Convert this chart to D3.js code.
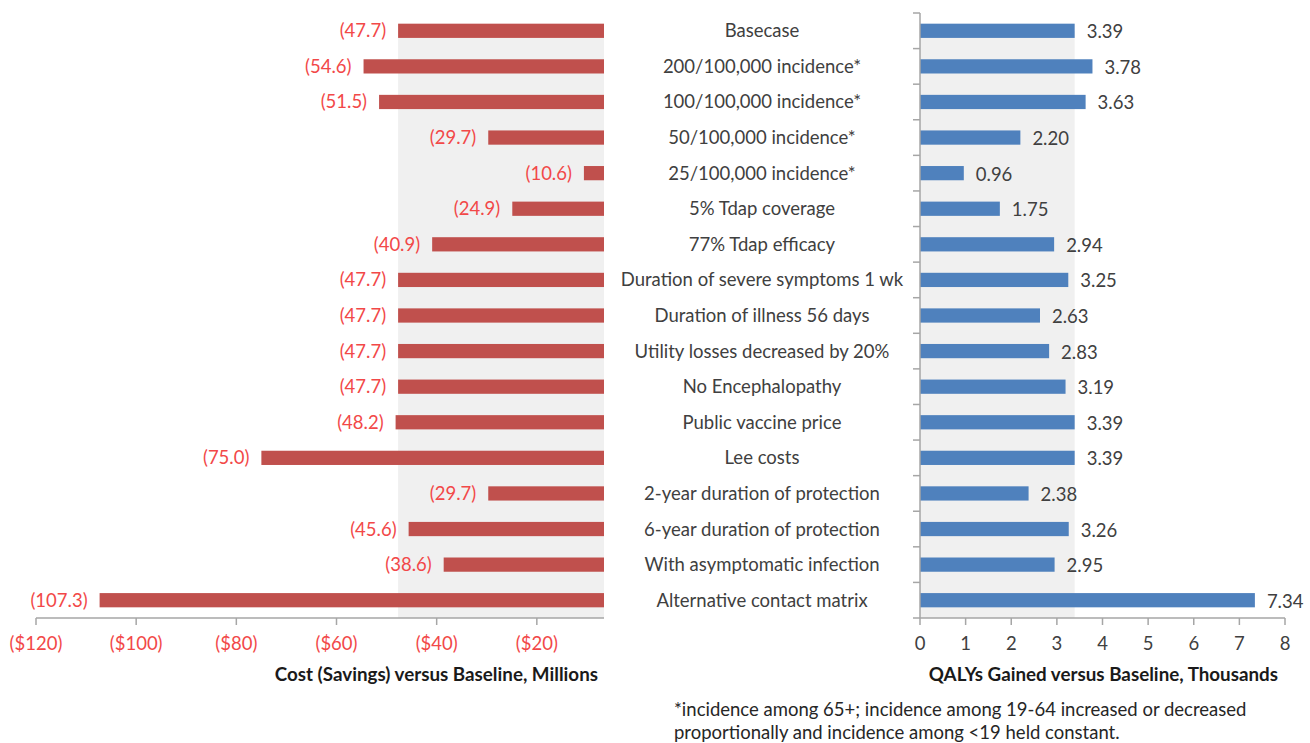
<!DOCTYPE html>
<html>
<head>
<meta charset="utf-8">
<script src="https://cdn.jsdelivr.net/npm/d3@7"></script>
<style>
  body { margin: 0; background: #fff; }
  svg text { font-family: Lato, "Open Sans", sans-serif; }
</style>
</head>
<body>
<div id="chart"></div>
<script>
const categories = [
  "Basecase", "200/100,000 incidence*", "100/100,000 incidence*", "50/100,000 incidence*",
  "25/100,000 incidence*", "5% Tdap coverage", "77% Tdap efficacy",
  "Duration of severe symptoms 1 wk", "Duration of illness 56 days",
  "Utility losses decreased by 20%", "No Encephalopathy", "Public vaccine price",
  "Lee costs", "2-year duration of protection", "6-year duration of protection",
  "With asymptomatic infection", "Alternative contact matrix"
];
const costValues = [-47.7, -54.6, -51.5, -29.7, -10.6, -24.9, -40.9, -47.7, -47.7, -47.7, -47.7, -48.2, -75.0, -29.7, -45.6, -38.6, -107.3];
const qalyValues = [3.39, 3.78, 3.63, 2.20, 0.96, 1.75, 2.94, 3.25, 2.63, 2.83, 3.19, 3.39, 3.39, 2.38, 3.26, 2.95, 7.34];
const costTicks = [-120, -100, -80, -60, -40, -20];
const qalyTicks = [0, 1, 2, 3, 4, 5, 6, 7, 8];
const costTitle = "Cost (Savings) versus Baseline, Millions";
const qalyTitle = "QALYs Gained versus Baseline, Thousands";
const footnote = [
  "*incidence among 65+; incidence among 19-64 increased or decreased",
  "proportionally and incidence among <19 held constant."
];

const width = 1310, height = 743;
const props = {
  red: "#c0504d", blue: "#4f81bd", band: "#f0f0f0",
  axis: "#a6a6a6", redText: "#f24848", text: "#404040",
  fontSize: 18.5, titleSize: 18.8
};

const svg = d3.select("#chart").append("svg").attr("width", width).attr("height", height);

const y = d3.scaleBand().domain(categories).range([13, 618]).paddingInner(0.6).paddingOuter(0.3);
const xL = d3.scaleLinear().domain([-120, 0]).range([36, 637]);
const xR = d3.scaleLinear().domain([0, 8]).range([920, 1285]);
const leftEnd = 604;
const axisY = 618;
const fmtCost = (v) => `(${Math.abs(v).toFixed(1)})`;
const mid = (d) => y(d) + y.bandwidth() / 2;

// left panel
const base = costValues[0];
svg.append("rect")
  .attr("x", xL(base)).attr("y", mid(categories[0]))
  .attr("width", leftEnd - xL(base)).attr("height", axisY - mid(categories[0]))
  .attr("fill", props.band);

svg.append("g").selectAll("rect")
  .data(categories)
  .join("rect")
  .attr("x", (d, i) => xL(costValues[i]))
  .attr("y", (d) => y(d))
  .attr("width", (d, i) => Math.min(xL(0), leftEnd) - xL(costValues[i]))
  .attr("height", y.bandwidth())
  .attr("fill", props.red);

svg.append("g").selectAll("text")
  .data(categories)
  .join("text")
  .attr("x", (d, i) => xL(costValues[i]) - 12)
  .attr("y", (d) => mid(d) + 6.5)
  .attr("text-anchor", "end")
  .attr("font-size", props.fontSize)
  .attr("fill", props.redText)
  .text((d, i) => fmtCost(costValues[i]));

const gL = svg.append("g");
gL.append("line").attr("x1", xL(-120)).attr("x2", leftEnd).attr("y1", axisY).attr("y2", axisY)
  .attr("stroke", props.axis).attr("stroke-width", 1.5);
gL.selectAll(".tk").data(costTicks).join("line").attr("class", "tk")
  .attr("x1", (d) => xL(d)).attr("x2", (d) => xL(d)).attr("y1", axisY).attr("y2", axisY + 7)
  .attr("stroke", props.axis).attr("stroke-width", 1.5);
gL.selectAll(".tl").data(costTicks).join("text").attr("class", "tl")
  .attr("x", (d) => xL(d)).attr("y", 650)
  .attr("text-anchor", "middle").attr("font-size", props.fontSize).attr("fill", props.redText)
  .text((d) => `($${Math.abs(d)})`);
gL.append("text").attr("x", 598).attr("y", 681).attr("text-anchor", "end")
  .attr("font-size", props.titleSize).attr("font-weight", "bold").attr("fill", "#1a1a1a").text(costTitle);

// category labels
svg.append("g").selectAll("text")
  .data(categories)
  .join("text")
  .attr("x", 762)
  .attr("y", (d) => mid(d) + 6.5)
  .attr("text-anchor", "middle")
  .attr("font-size", props.fontSize)
  .attr("fill", props.text)
  .text((d) => d);

// right panel
const qBase = qalyValues[0];
svg.append("rect")
  .attr("x", xR(0)).attr("y", mid(categories[0]))
  .attr("width", xR(qBase) - xR(0)).attr("height", axisY - mid(categories[0]))
  .attr("fill", props.band);

svg.append("g").selectAll("rect")
  .data(categories)
  .join("rect")
  .attr("x", xR(0))
  .attr("y", (d) => y(d))
  .attr("width", (d, i) => xR(qalyValues[i]) - xR(0))
  .attr("height", y.bandwidth())
  .attr("fill", props.blue);

svg.append("g").selectAll("text")
  .data(categories)
  .join("text")
  .attr("x", (d, i) => xR(qalyValues[i]) + 12)
  .attr("y", (d) => mid(d) + 7.5)
  .attr("font-size", props.fontSize)
  .attr("fill", props.text)
  .text((d, i) => qalyValues[i].toFixed(2));

const gR = svg.append("g");
gR.append("line").attr("x1", xR(0)).attr("x2", xR(8)).attr("y1", axisY).attr("y2", axisY)
  .attr("stroke", props.axis).attr("stroke-width", 1.5);
gR.append("line").attr("x1", xR(0)).attr("x2", xR(0)).attr("y1", 13).attr("y2", axisY)
  .attr("stroke", props.axis).attr("stroke-width", 1.5);
gR.selectAll(".tk").data(qalyTicks).join("line").attr("class", "tk")
  .attr("x1", (d) => xR(d)).attr("x2", (d) => xR(d)).attr("y1", axisY).attr("y2", axisY + 7)
  .attr("stroke", props.axis).attr("stroke-width", 1.5);
const bounds = categories.map((d) => y(d) - y.step() * y.paddingInner() / 2).concat([axisY]);
gR.selectAll(".yt").data(bounds).join("line").attr("class", "yt")
  .attr("x1", xR(0) - 7).attr("x2", xR(0)).attr("y1", (d) => d).attr("y2", (d) => d)
  .attr("stroke", props.axis).attr("stroke-width", 1.5);
gR.selectAll(".tl").data(qalyTicks).join("text").attr("class", "tl")
  .attr("x", (d) => xR(d)).attr("y", 650)
  .attr("text-anchor", "middle").attr("font-size", props.fontSize).attr("fill", props.text)
  .text((d) => d);
gR.append("text").attr("x", 1278).attr("y", 681).attr("text-anchor", "end")
  .attr("font-size", props.titleSize).attr("font-weight", "bold").attr("fill", "#1a1a1a").text(qalyTitle);

svg.append("g").selectAll("text")
  .data(footnote)
  .join("text")
  .attr("x", 674)
  .attr("y", (d, i) => 716 + i * 23)
  .attr("font-size", 18.5)
  .attr("fill", "#262626")
  .text((d) => d);
</script>
</body>
</html>
